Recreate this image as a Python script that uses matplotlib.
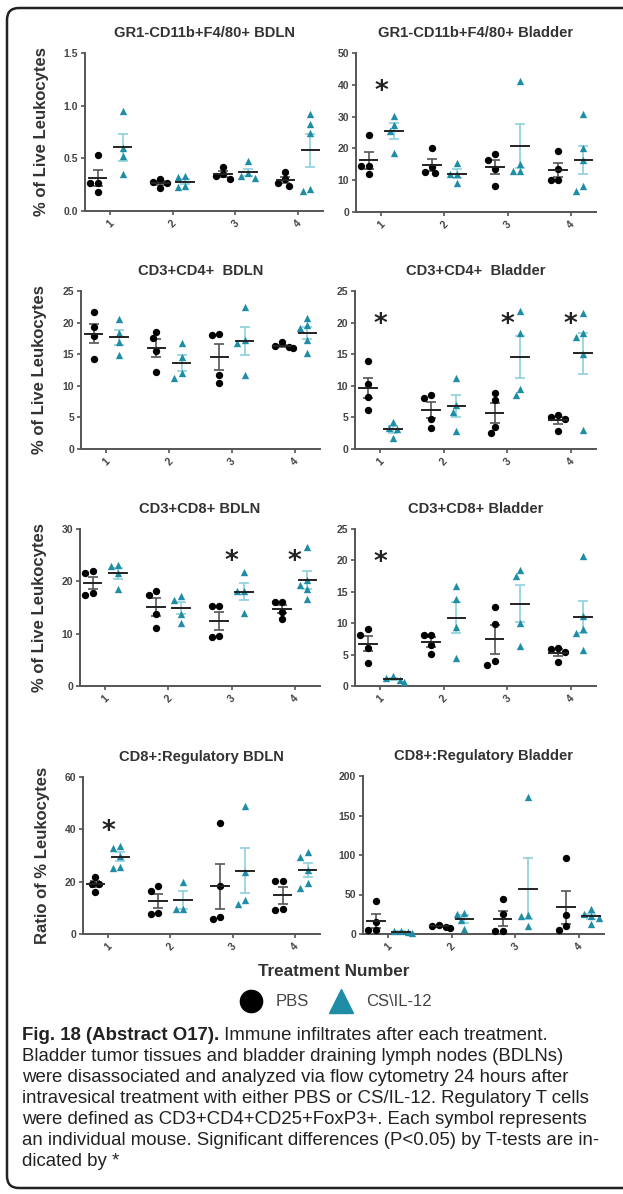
import matplotlib
matplotlib.use("Agg")
import matplotlib.pyplot as plt
import numpy as np
from matplotlib.lines import Line2D
from matplotlib.patches import FancyBboxPatch
from matplotlib.transforms import IdentityTransform, offset_copy

plt.rcParams['font.family'] = ['Liberation Sans', 'DejaVu Sans']

# treatment groups
groups = [1, 2, 3, 4]
group_labels = ['1', '2', '3', '4']

titles = ['GR1-CD11b+F4/80+ BDLN', 'GR1-CD11b+F4/80+ Bladder',
          'CD3+CD4+  BDLN', 'CD3+CD4+  Bladder',
          'CD3+CD8+ BDLN', 'CD3+CD8+ Bladder',
          'CD8+:Regulatory BDLN', 'CD8+:Regulatory Bladder']

ytops = [1.5, 50, 25, 25, 30, 25, 60, 200]
ysteps = [0.5, 10, 5, 5, 10, 5, 20, 50]

# values per group (PBS / CS\IL-12), one number per mouse
gr1_bdln_pbs = [[0.53, 0.27, 0.27, 0.18], [0.30, 0.22, 0.27, 0.28], [0.42, 0.35, 0.33, 0.30], [0.37, 0.30, 0.27, 0.24]]
gr1_bdln_cs = [[0.95, 0.60, 0.52, 0.35], [0.33, 0.32, 0.23, 0.24], [0.47, 0.36, 0.33, 0.31], [0.92, 0.83, 0.74, 0.19, 0.21]]

gr1_blad_pbs = [[24.2, 14.5, 14.5, 12.0], [20.2, 14.2, 12.2, 12.5], [16.5, 18.2, 13.5, 8.1], [19.2, 13.5, 10.2, 10.0]]
gr1_blad_cs = [[30.2, 27.4, 25.5, 18.4], [15.4, 12.0, 12.0, 9.0], [41.3, 15.1, 13.0, 13.0], [30.7, 20.2, 16.3, 6.6, 8.2]]

cd4_bdln_pbs = [[21.7, 19.3, 17.9, 14.2], [17.6, 18.5, 15.5, 12.2], [18.0, 18.2, 11.7, 10.5], [16.3, 16.0, 16.1, 16.9]]
cd4_bdln_cs = [[20.5, 18.3, 17.0, 14.9], [16.7, 14.6, 12.0, 11.2], [22.5, 16.7, 17.2, 11.7], [20.8, 19.6, 19.1, 17.3, 15.2]]

cd4_blad_pbs = [[13.9, 10.3, 8.3, 6.1], [8.1, 8.6, 4.8, 3.4], [8.9, 7.8, 3.5, 2.5], [4.8, 5.1, 5.4, 2.9]]
cd4_blad_cs = [[4.2, 3.3, 3.2, 1.7], [11.3, 6.9, 5.9, 2.9], [21.9, 18.3, 8.5, 9.5], [21.5, 17.7, 18.4, 15.1, 3.0]]

cd8_bdln_pbs = [[22.0, 21.6, 17.4, 17.7], [17.4, 18.2, 13.7, 11.0], [15.3, 15.3, 9.3, 9.5], [16.0, 16.0, 14.2, 12.8]]
cd8_bdln_cs = [[22.9, 23.2, 21.6, 18.6], [16.5, 17.2, 13.7, 12.1], [21.8, 18.2, 18.2, 14.0], [26.5, 20.2, 18.6, 19.3, 16.7]]

cd8_blad_pbs = [[8.1, 9.0, 6.1, 3.6], [8.2, 8.2, 6.6, 5.1], [12.6, 9.8, 3.3, 4.0], [5.9, 6.1, 5.4, 3.8]]
cd8_blad_cs = [[1.0, 1.3, 1.6, 0.6], [15.9, 13.8, 9.4, 4.5], [17.5, 18.5, 10.1, 6.4], [20.7, 11.2, 9.0, 8.5, 5.7]]

treg_bdln_pbs = [[21.6, 19.1, 19.1, 16.1], [18.3, 16.5, 7.6, 7.9], [42.4, 18.4, 5.7, 6.6], [20.2, 20.2, 9.1, 9.4]]
treg_bdln_cs = [[33.5, 32.7, 30.0, 25.4, 25.6], [19.7, 9.6, 9.6], [48.8, 23.8, 11.3, 13.0], [31.4, 29.5, 24.4, 17.7, 19.3]]

treg_blad_pbs = [[41.3, 15.5, 4.6, 4.6], [8.5, 10.0, 12.0, 8.2], [44.6, 25.0, 4.2, 4.2], [96.0, 24.4, 9.7, 5.5]]
treg_blad_cs = [[2.1, 3.4, 4.2, 1.3], [25.3, 26.5, 18.1, 6.3], [173.9, 24.4, 22.3, 9.7], [31.6, 25.0, 22.3, 20.0, 12.5]]

pbs_sets = [gr1_bdln_pbs, gr1_blad_pbs, cd4_bdln_pbs, cd4_blad_pbs, cd8_bdln_pbs, cd8_blad_pbs, treg_bdln_pbs, treg_blad_pbs]
cs_sets = [gr1_bdln_cs, gr1_blad_cs, cd4_bdln_cs, cd4_blad_cs, cd8_bdln_cs, cd8_blad_cs, treg_bdln_cs, treg_blad_cs]

# significance stars: (panel, group, height)
star_panel = [1, 3, 3, 3, 4, 4, 5, 6]
star_group = [1, 1, 3, 4, 3, 4, 1, 1]
star_height = [39, 20.2, 20.2, 20.2, 24.5, 24.5, 20.3, 40.7]

caption_bold = 'Fig. 18 (Abstract O17).'
caption_lines = [' Immune infiltrates after each treatment.',
                 'Bladder tumor tissues and bladder draining lymph nodes (BDLNs)',
                 'were disassociated and analyzed via flow cytometry 24 hours after',
                 'intravesical treatment with either PBS or CS/IL-12. Regulatory T cells',
                 'were defined as CD3+CD4+CD25+FoxP3+. Each symbol represents',
                 'an individual mouse. Significant differences (P<0.05) by T-tests are in-',
                 'dicated by *']

teal = '#1f8da6'
light_teal = '#8fcfdc'
W, H = 623, 1194

fig = plt.figure(figsize=(W / 100, H / 100), dpi=100)

# rounded frame
frame = FancyBboxPatch((7, H - 1188), 660, 1180, boxstyle='round,pad=0,rounding_size=12',
                       transform=IdentityTransform(), fill=False, edgecolor='#222222', lw=1.8)
fig.patches.append(frame)


def px_box(x0, y0, x1, y1):
    return [x0 / W, 1 - y1 / H, (x1 - x0) / W, (y1 - y0) / H]


boxes = [(85, 53, 323, 211), (356, 53, 596, 212),
         (81, 291, 320, 449), (355, 291, 596, 449),
         (80, 529, 320, 686), (355, 529, 596, 686),
         (83, 777, 320, 934), (363, 776, 604, 934)]


def swarm(vals, top, ax_h_px, unit_px=61.0, d=7.0):
    # place each point at the nearest free horizontal slot (beeswarm)
    vals = np.asarray(vals, float)
    ypx = vals / top * ax_h_px
    placed = []
    offs = np.zeros(len(vals))
    slots = [0, -1, 1, -2, 2, -3, 3]
    for k in np.argsort(-vals):
        for s in slots:
            xo = s * d * 0.5
            ok = all((xo - px) ** 2 + (ypx[k] - py) ** 2 >= (d * 0.95) ** 2 for px, py in placed)
            if ok:
                break
        placed.append((xo, ypx[k]))
        offs[k] = xo / unit_px
    return offs


axes = []
for p in range(8):
    bx = boxes[p]
    ax = fig.add_axes(px_box(*bx))
    axes.append(ax)
    top = ytops[p]
    ax_h = bx[3] - bx[1]
    for i, g in enumerate(groups):
        for vals, dx, col, mk, ecol in [(pbs_sets[p][i], -0.2, 'black', 'o', '#555555'),
                                        (cs_sets[p][i], 0.2, teal, '^', light_teal)]:
            v = np.array(vals)
            xs = g + dx + swarm(v, top, ax_h)
            ax.scatter(xs, v, marker=mk, s=28, color=col, zorder=3, linewidths=0, clip_on=False)
            m = v.mean()
            se = v.std(ddof=1) / np.sqrt(len(v))
            ax.errorbar(g + dx, m, yerr=se, fmt='none', ecolor=ecol, elinewidth=1.2,
                        capsize=3.5, capthick=1.2, zorder=2)
            ax.plot([g + dx - 0.14, g + dx + 0.14], [m, m], color='#222222', lw=1.4, zorder=4)
    ax.set_xlim(0.6, 4.4)
    ax.set_ylim(0, top)
    ax.set_yticks(np.arange(0, top + ysteps[p] / 2, ysteps[p]))
    if p == 0:
        ax.set_yticklabels(['%.1f' % t for t in ax.get_yticks()])
    ax.set_xticks(groups)
    ax.set_xticklabels(group_labels, rotation=45, ha='center')
    for s in ['top', 'right']:
        ax.spines[s].set_visible(False)
    for s in ['left', 'bottom']:
        ax.spines[s].set_color('#555555')
        ax.spines[s].set_linewidth(1.4)
    ax.tick_params(axis='both', colors='#555555', labelcolor='#444444', width=1.2, length=3,
                   labelsize=7.5, pad=2)
    for lab in ax.get_xticklabels() + ax.get_yticklabels():
        lab.set_fontweight('bold')
    ax.patch.set_alpha(0)
    ax.annotate(titles[p], xy=(0.5, 1), xycoords='axes fraction', xytext=(0, 20 * 0.72),
                textcoords='offset points', ha='center', va='center', fontsize=10.6,
                fontweight='bold', color='#333333', annotation_clip=False)

for sp, sg, sh in zip(star_panel, star_group, star_height):
    ax = axes[sp]
    tr = offset_copy(ax.transData, fig=fig, x=0, y=-4, units='dots')
    ax.text(sg, sh, '*', fontsize=19, fontweight='bold', ha='center', va='center',
            color='#222222', family='DejaVu Sans', transform=tr)

# y axis labels
for (row_y, txt, xp) in [((53 + 211) / 2, '% of Live Leukocytes', 42),
                         ((291 + 449) / 2, '% of Live Leukocytes', 40),
                         ((529 + 686) / 2, '% of Live Leukocytes', 40),
                         ((777 + 934) / 2, 'Ratio of % Leukocytes', 43)]:
    fig.text(xp / W, 1 - row_y / H, txt, rotation=90, ha='center', va='center',
             fontsize=12, fontweight='bold', color='#333333')

fig.text(334 / W, 1 - 972 / H, 'Treatment Number', ha='center', va='center',
         fontsize=12.3, fontweight='bold', color='#333333')

handles = [Line2D([], [], marker='o', color='black', ls='none', ms=16, label='PBS'),
           Line2D([], [], marker='^', color=teal, ls='none', ms=17, label='CS\\IL-12')]
fig.legend(handles=handles, loc='center', bbox_to_anchor=(336 / W, 1 - 1002 / H), ncol=2,
           frameon=False, fontsize=12, handlelength=1.3, handletextpad=0.85, columnspacing=1.3,
           labelcolor='#444444')

# caption
cap_font = ['Liberation Sans', 'DejaVu Sans']
cap_size = 13.4
renderer = fig.canvas.get_renderer()
x0 = 22 / W
line_y = [1035 + 21.1 * k for k in range(len(caption_lines))]
tb = fig.text(x0, 1 - line_y[0] / H, caption_bold, ha='left', va='center', fontsize=cap_size,
              fontweight='bold', family=cap_font, color='#222222')
bw = tb.get_window_extent(renderer).width / W
fig.text(x0 + bw, 1 - line_y[0] / H, caption_lines[0], ha='left', va='center', fontsize=cap_size,
         family=cap_font, color='#222222')
for k in range(1, len(caption_lines)):
    fig.text(x0, 1 - line_y[k] / H, caption_lines[k], ha='left', va='center', fontsize=cap_size,
             family=cap_font, color='#222222')

fig.savefig('out.png', dpi=100)
